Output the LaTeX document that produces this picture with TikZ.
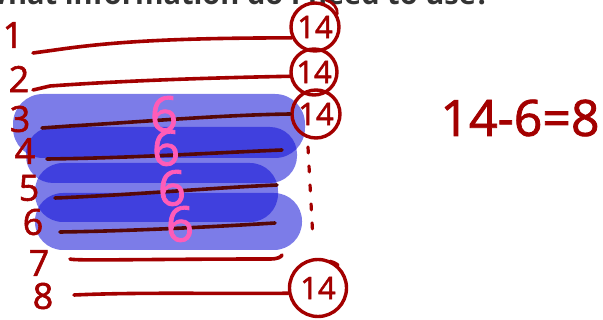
\documentclass[tikz,border=0pt]{standalone}
\usepackage{fontspec}
\setmainfont{Open Sans}
\newfontfamily\titlefont{Open Sans}[UprightFont=* Bold]
\newfontfamily\handfont{Open Sans}[FakeBold=1.6]
\definecolor{ink}{HTML}{A30000}
\definecolor{darkink}{HTML}{560808}
\definecolor{bandblue}{RGB}{13,13,213}
\definecolor{pinkink}{HTML}{FF5CB8}
\definecolor{titlegray}{HTML}{333333}
\tikzset{
  pen/.style={draw=ink, line width=3.6pt, line cap=round, line join=round},
  darkpen/.style={draw=darkink, line width=3.6pt, line cap=round, line join=round},
  band/.style={fill=bandblue, fill opacity=0.54},
  numlabel/.style={text=ink, font=\handfont\fontsize{36}{36}\selectfont, inner sep=0pt},
  ringnode/.style={circle, draw=ink, line width=3.4pt, text=ink, inner sep=0pt,
     font=\handfont\fontsize{31}{31}\selectfont},
  sixnode/.style={text=pinkink, font=\handfont\fontsize{49}{49}\selectfont, inner sep=0pt},
}
\begin{document}
\begin{tikzpicture}[x=1pt,y=-1pt]
\useasboundingbox (0,0) rectangle (603,320);
% title (cut at top)
\node[anchor=base east, inner sep=0pt, text=titlegray, font=\titlefont\fontsize{29}{29}\selectfont] (title) at (490,4.5) {What information do I need to use?};
% blue bands
\fill[band, rounded corners=30pt] (13,94) rectangle (305,158);
\fill[band, rounded corners=27pt] (26,127) rectangle (297,183);
\fill[band, rounded corners=28pt] (35,163) rectangle (278,222);
\fill[band, rounded corners=28pt] (35,193) rectangle (302,250);
% circles
\node[ringnode, minimum size=48pt] (c1) at (315,27) {14};
\node[ringnode, minimum size=46pt] (c2) at (314,72) {14};
\node[ringnode, minimum size=48pt] (c3) at (316,114) {14};
\node[ringnode, minimum size=57pt] (c4) at (318,288) {14};
% tails on circles
\draw[pen, line width=2.8pt] (c1.30) .. controls (338,8) and (333,2) .. (326,0);
\draw[pen, line width=2.8pt] (c4.50) .. controls (340,266) and (335,262) .. (330,261);
% row labels
\node[numlabel] (n1) at (13,35) {1};
\node[numlabel] (n2) at (19,79) {2};
\node[numlabel] (n3) at (20,119) {3};
\node[numlabel] (n4) at (25,151) {4};
\node[numlabel] (n5) at (29,188) {5};
\node[numlabel] (n6) at (33,222) {6};
\node[numlabel] (n7) at (39,263) {7};
\node[numlabel] (n8) at (43,296) {8};
% line start/end coordinates
\coordinate (s1) at (33,53);
\coordinate (s2) at (33,90);
\coordinate (s3) at (42,128);
\coordinate (s4) at (47,159);
\coordinate (s5) at (55,198);
\coordinate (s6) at (60,232);
\coordinate (s7) at (70,259);
\coordinate (s8) at (74,295);
\coordinate (e4) at (282,150);
\coordinate (e5) at (277,185);
\coordinate (e6) at (275,223);
\coordinate (e7) at (282,255);
% lines
\draw[pen] (s1) -- (55,50) .. controls (110,42) and (170,38) .. (c1.205);
\draw[pen] (s2) -- (50,86) .. controls (120,81) and (200,78) .. (c2.190);
\draw[darkpen] (s3) -- (70,126) .. controls (140,122) and (220,115) .. (c3.west);
\draw[darkpen] (s4) .. controls (130,158) and (210,153) .. (e4);
\draw[darkpen] (s5) .. controls (130,195) and (210,188) .. (e5);
\draw[darkpen] (s6) .. controls (130,231) and (210,227) .. (e6);
\draw[pen] (s7) .. controls (74,261) and (150,259) .. (270,259) .. controls (278,259) and (281,257) .. (e7);
\draw[pen] (s8) .. controls (140,292) and (220,294) .. (c4.190);
% dotted vertical line
\coordinate (d1) at (308,147);
\coordinate (d2) at (313,240);
\draw[pen, line width=3.2pt, dash pattern=on 6pt off 13pt] (d1) -- (d2);
% pink sixes
\node[sixnode] (six1) at (164,114) {6};
\node[sixnode] (six2) at (166,148) {6};
\node[sixnode] (six3) at (172,188) {6};
\node[sixnode] (six4) at (180,224) {6};
% equation
\node[text=ink, inner sep=0pt, font=\handfont\fontsize{50}{50}\selectfont] (eq) at (520,118) {14-6=8};
\end{tikzpicture}
\end{document}
